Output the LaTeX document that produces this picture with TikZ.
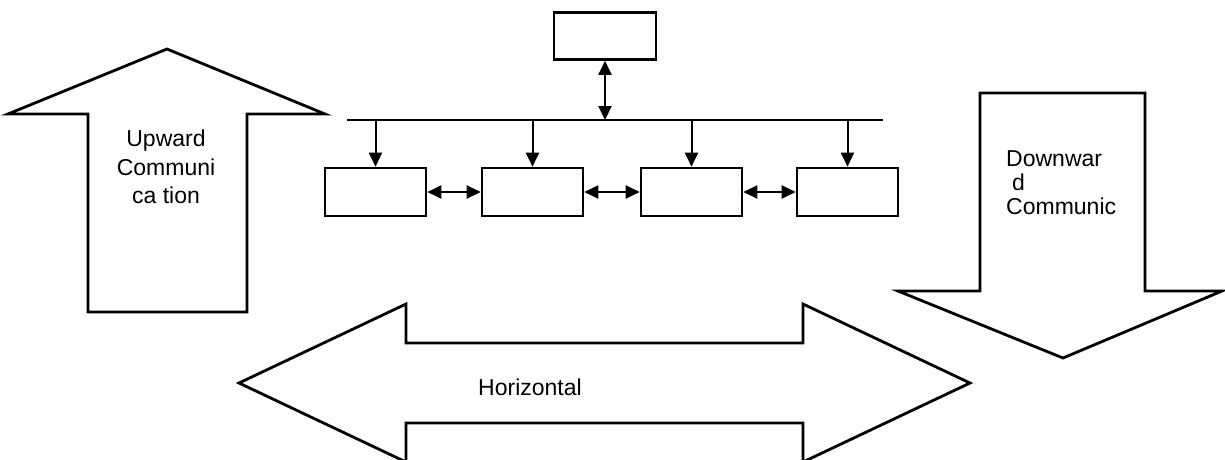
\documentclass[tikz,border=0pt]{standalone}
\usepackage{fontspec}
\setmainfont{Liberation Sans}
\usetikzlibrary{positioning, arrows.meta}
\tikzset{
  unit/.style={draw,line width=2.6pt,minimum width=101pt,minimum height=48pt,inner sep=0pt},
  blockarrow/.style={draw,line width=2.8pt,line join=miter},
  bus/.style={line width=2.8pt},
  link/.style={line width=2pt,-{Triangle[length=14pt,width=13pt]}},
  linkboth/.style={line width=2pt,{Triangle[length=14pt,width=13pt]}-{Triangle[length=14pt,width=13pt]}},
  arrowtext/.style={font=\fontsize{23}{28.5}\selectfont,align=center,inner sep=0pt},
}
\begin{document}
\begin{tikzpicture}[x=1pt,y=-1pt]
	    \useasboundingbox (0,0) rectangle (1225,459);
	    % big block arrows
	    \draw[blockarrow] (88,312) -- (88,114) -- (8,114) -- (167,49) -- (325,114) -- (247,114) -- (247,312) -- cycle;
	    \node[arrowtext] (up) at (166,167) {Upward\\Communi\\ca tion};
	    \draw[blockarrow] (980,93) -- (1145,93) -- (1145,291) -- (1222,291) -- (1063,358) -- (898,291) -- (980,291) -- cycle;
	    \node[arrowtext,align=left,anchor=north west,font=\fontsize{23}{24}\selectfont] (down) at (1006,150) {Downwar\\\hspace{6pt}d\\Communic};
	    \draw[blockarrow] (239,383) -- (406,304) -- (406,343) -- (803,343) -- (803,304) -- (970,383) -- (803,462) -- (803,423) -- (406,423) -- (406,462) -- cycle;
	    \node[arrowtext] (horiz) at (530,387) {Horizontal};
	    % chart
	    \node[unit,minimum width=102pt,minimum height=47pt] (head) at (605,36) {};
	    \coordinate (busL) at (347,120);
	    \coordinate (busR) at (883,120);
	    \draw[bus] (busL) -- (busR);
	    \node[unit] (u1) at (375.5,192) {};
	    \node[unit,right=53.4pt of u1] (u2) {};
	    \node[unit,right=55.4pt of u2] (u3) {};
	    \node[unit,right=52.4pt of u3] (u4) {};
	    \draw[linkboth] (head) -- (head.south |- busL);
	    \foreach \u in {u1,u2,u3,u4}
	      \draw[link] (\u.north |- busL) -- (\u.north);
	    \draw[linkboth] (u1) -- (u2);
	    \draw[linkboth] (u2) -- (u3);
	    \draw[linkboth] (u3) -- (u4);
	\end{tikzpicture}
\end{document}
